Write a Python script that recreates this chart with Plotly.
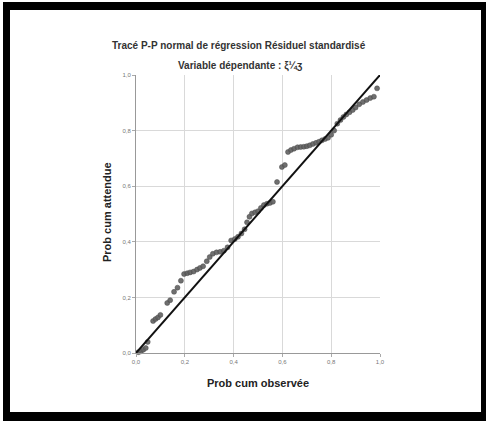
import plotly.graph_objects as go

# Observed cumulative probability (x) and expected cumulative probability (y)
obs_cum = [0.010, 0.020, 0.030, 0.040, 0.048, 0.070, 0.080, 0.090, 0.100, 0.128,
           0.140, 0.156, 0.170, 0.184, 0.197, 0.210, 0.222, 0.236, 0.250, 0.262,
           0.275, 0.290, 0.302, 0.315, 0.330, 0.345, 0.360, 0.375, 0.390, 0.405,
           0.418, 0.432, 0.445, 0.455, 0.465, 0.475, 0.488, 0.500, 0.512, 0.524,
           0.537, 0.549, 0.561, 0.578, 0.598, 0.610, 0.623, 0.635, 0.648, 0.662,
           0.675, 0.688, 0.700, 0.712, 0.725, 0.738, 0.750, 0.762, 0.775, 0.787,
           0.800, 0.812, 0.825, 0.838, 0.850, 0.862, 0.875, 0.888, 0.900, 0.915,
           0.930, 0.945, 0.960, 0.975, 0.988]
exp_cum = [0.003, 0.006, 0.012, 0.018, 0.040, 0.115, 0.122, 0.128, 0.137, 0.180,
           0.190, 0.220, 0.235, 0.260, 0.284, 0.287, 0.290, 0.293, 0.300, 0.306,
           0.312, 0.330, 0.345, 0.357, 0.362, 0.364, 0.368, 0.380, 0.405, 0.410,
           0.418, 0.430, 0.445, 0.470, 0.490, 0.502, 0.506, 0.510, 0.522, 0.532,
           0.537, 0.540, 0.544, 0.615, 0.669, 0.676, 0.723, 0.730, 0.735, 0.740,
           0.741, 0.742, 0.744, 0.747, 0.752, 0.756, 0.760, 0.765, 0.770, 0.774,
           0.785, 0.800, 0.825, 0.838, 0.849, 0.858, 0.866, 0.874, 0.883, 0.895,
           0.903, 0.910, 0.917, 0.922, 0.952]
ref_line = [0.0, 1.0]
tick_vals = [0.0, 0.2, 0.4, 0.6, 0.8, 1.0]
tick_text = ["0,0", "0,2", "0,4", "0,6", "0,8", "1,0"]

title_text = "Tracé P-P normal de régression Résiduel standardisé"
subtitle_text = "Variable dépendante : ξ¼ʒ"
x_title = "Prob cum observée"
y_title = "Prob cum attendue"

W, H = 486, 421
L, R, T, B = 136, 380, 75, 353  # plot area in pixels

def px(x):
    return (x - L) / (R - L)

def py(y):
    return (B - y) / (B - T)

FONT = "Liberation Sans, Arial, sans-serif"

fig = go.Figure()
fig.add_trace(go.Scatter(
    x=obs_cum, y=exp_cum, mode="markers",
    marker=dict(size=5, color="rgba(95,95,95,0.9)",
                line=dict(width=0.5, color="#4a4a4a")),
    showlegend=False, cliponaxis=False))
fig.add_trace(go.Scatter(
    x=ref_line, y=ref_line, mode="lines",
    line=dict(color="#111111", width=2), showlegend=False, cliponaxis=False))

axis_common = dict(range=[0, 1], tickvals=tick_vals, ticktext=tick_text,
                   showgrid=True, gridcolor="#d9d9d9", gridwidth=1,
                   zeroline=False, showline=True, linecolor="#999999", linewidth=1,
                   tickfont=dict(family=FONT, size=6, color="#777777"),
                   ticks="outside", ticklen=3, tickcolor="#aaaaaa")
fig.update_xaxes(**axis_common)
fig.update_yaxes(**axis_common)

annotations = [
    dict(text="<b>" + title_text + "</b>", x=px(239), y=py(45), xref="paper", yref="paper",
         showarrow=False, font=dict(family=FONT, size=10, color="#333333"),
         xanchor="center", yanchor="middle"),
    dict(text="<b>" + subtitle_text + "</b>", x=px(240), y=py(66), xref="paper", yref="paper",
         showarrow=False, font=dict(family=FONT, size=10, color="#333333"),
         xanchor="center", yanchor="middle"),
    dict(text="<b>" + x_title + "</b>", x=px(258), y=py(383), xref="paper", yref="paper",
         showarrow=False, font=dict(family=FONT, size=11, color="#222222"),
         xanchor="center", yanchor="middle"),
    dict(text="<b>" + y_title + "</b>", x=px(107), y=py(212), xref="paper", yref="paper",
         showarrow=False, font=dict(family=FONT, size=11, color="#222222"),
         xanchor="center", yanchor="middle", textangle=-90),
]

black = "#000000"
shapes = [
    dict(type="rect", xref="paper", yref="paper", x0=px(3), x1=px(10), y0=py(2), y1=py(421),
         fillcolor=black, line=dict(width=0), layer="above"),
    dict(type="rect", xref="paper", yref="paper", x0=px(3), x1=px(486), y0=py(2), y1=py(10),
         fillcolor=black, line=dict(width=0), layer="above"),
    dict(type="rect", xref="paper", yref="paper", x0=px(481), x1=px(486), y0=py(2), y1=py(421),
         fillcolor=black, line=dict(width=0), layer="above"),
    dict(type="rect", xref="paper", yref="paper", x0=px(3), x1=px(486), y0=py(412), y1=py(421),
         fillcolor=black, line=dict(width=0), layer="above"),
]

fig.update_layout(
    width=W, height=H,
    margin=dict(l=L, r=W - R, t=T, b=H - B, pad=0),
    plot_bgcolor="white", paper_bgcolor="white",
    annotations=annotations, shapes=shapes,
    font=dict(family=FONT),
)

fig.write_html("out.html", config={"displayModeBar": False},
               post_script="document.body.style.margin='0';document.body.style.overflow='hidden';")
